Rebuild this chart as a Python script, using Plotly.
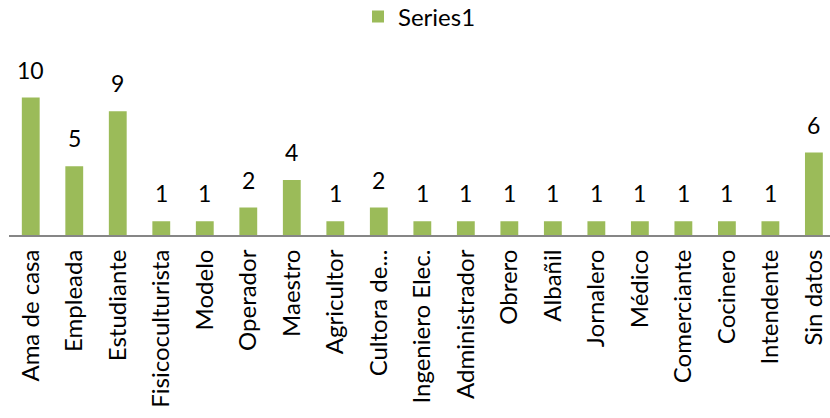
import plotly.graph_objects as go

categories = ["Ama de casa", "Empleada", "Estudiante", "Fisicoculturista", "Modelo",
              "Operador", "Maestro", "Agricultor", "Cultora de...", "Ingeniero Elec.",
              "Administrador", "Obrero", "Albañil", "Jornalero", "Médico",
              "Comerciante", "Cocinero", "Intendente", "Sin datos"]
values = [10, 5, 9, 1, 1, 2, 4, 1, 2, 1, 1, 1, 1, 1, 1, 1, 1, 1, 6]
series_name = "Series1"

FONT = "Lato"
W, H = 830, 418
fig = go.Figure()
fig.add_trace(go.Bar(
    x=categories, y=values, name=series_name,
    marker=dict(color="#9BBB59", line=dict(width=0)),
    showlegend=True,
))

for c, v in zip(categories, values):
    fig.add_annotation(x=c, y=v, text=str(v), showarrow=False,
                       yanchor="bottom", yshift=12,
                       font=dict(family=FONT, size=23, color="#000000"))

fig.update_layout(
    width=W, height=H,
    margin=dict(l=9, r=0, t=70, b=183, autoexpand=False),
    paper_bgcolor="white", plot_bgcolor="white",
    bargap=0.59,
    showlegend=True,
    legend=dict(orientation="h", x=0.5, xanchor="center",
                yref="container", y=(H - 17) / H, yanchor="middle",
                font=dict(family=FONT, size=24, color="#000000"),
                bgcolor="rgba(0,0,0,0)"),
    font=dict(family=FONT, color="#000000"),
)
fig.update_xaxes(
    range=[-0.5, 18.37], tickangle=-90, automargin=False,
    showline=True, linecolor="#868686", linewidth=2,
    showgrid=False, ticks="", ticklabelstandoff=3,
    tickfont=dict(family=FONT, size=24, color="#000000"),
)
fig.update_yaxes(range=[0, 12], visible=False, showgrid=False, zeroline=False)

fig.write_html("out.html", config={"displayModeBar": False},
               post_script="document.body.style.margin='0px';")
